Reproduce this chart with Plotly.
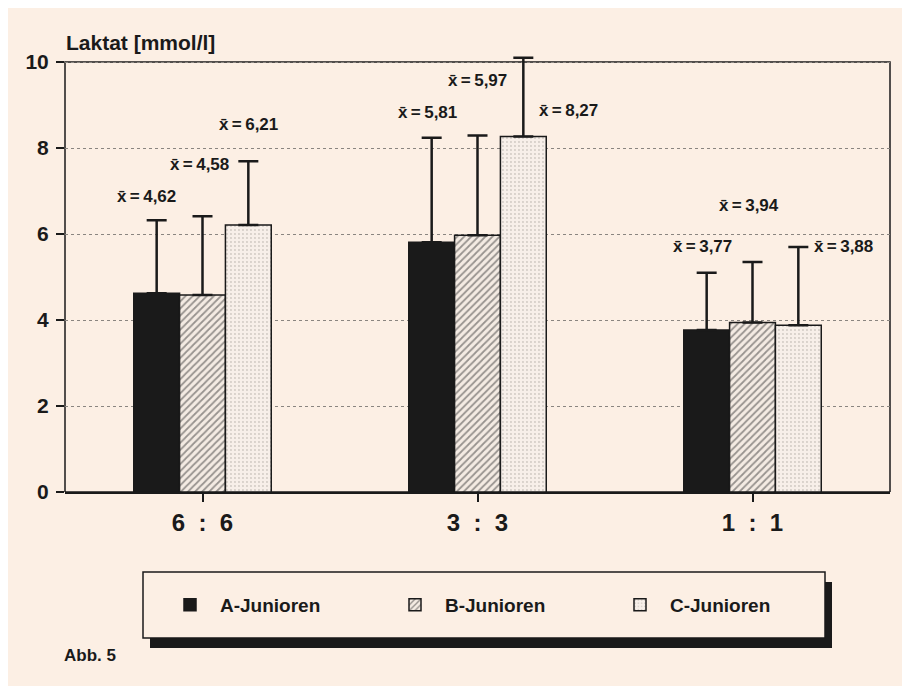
import plotly.graph_objects as go

categories = ["6  :  6", "3  :  3", "1  :  1"]
series_names = ["A-Junioren", "B-Junioren", "C-Junioren"]
a_mean = [4.62, 5.81, 3.77]
b_mean = [4.58, 5.97, 3.94]
c_mean = [6.21, 8.27, 3.88]
a_sd = [1.70, 2.43, 1.33]
b_sd = [1.83, 2.32, 1.41]
c_sd = [1.48, 1.83, 1.82]
y_ticks = [0, 2, 4, 6, 8, 10]

means = [a_mean, b_mean, c_mean]
sds = [a_sd, b_sd, c_sd]

# label placement (pixel offsets from error-bar cap) per series, per group
label_dx = [[-10, -4, -4], [-3, 0, -4], [0, 45, 45]]
label_dy = [[24, 25, 26], [52, 55, 56], [37, -53, 0]]

BG = "#fcefe4"
INK = "#1a1a1a"
FONT = "Liberation Sans"

patterns = [
    dict(shape="", fgcolor=INK),
    dict(shape="/", fgcolor="#3a3a3a", bgcolor="#f4ebe3", size=5, solidity=0.35),
    dict(shape=".", fgcolor="#a8a29c", bgcolor="#f7efe9", size=4, solidity=0.18),
]
colors = [INK, "#f4ebe3", "#f7efe9"]

bargap = 0.5
n = len(series_names)
xs = list(range(len(categories)))

# the page body adds an 8px offset; figure is sized to fill the rest
W, H = 902, 678
HEAD = 6  # px of headroom above the frame so the tallest cap shows
L, R, T, B = 57, 20, 54 - HEAD, 194
plot_w, plot_h = W - L - R, H - T - B
y_max = 10 * plot_h / (plot_h - HEAD)


def px_x(v):
    return (v - 8 - L) / plot_w


def px_y(v):
    return (H - B - (v - 8)) / plot_h


fig = go.Figure()
for j in range(n):
    fig.add_trace(go.Bar(
        x=xs, y=means[j], name=series_names[j],
        marker=dict(color=colors[j], pattern=patterns[j],
                    line=dict(color=INK, width=1.5)),
        error_y=dict(type="data", array=sds[j], arrayminus=[0] * len(xs),
                     symmetric=False, color=INK, thickness=2.5, width=10),
        cliponaxis=False,
    ))

annotations = []
w = (1 - bargap) / n
for j in range(n):
    for i in xs:
        xc = i + (j - (n - 1) / 2) * w
        annotations.append(dict(
            x=xc, y=means[j][i] + sds[j][i], xref="x", yref="y",
            text="<b>x\u0304\u2009=\u2009" + f"{means[j][i]:.2f}".replace(".", ",") + "</b>",
            showarrow=False, xshift=label_dx[j][i], yshift=label_dy[j][i],
            font=dict(family=FONT, size=17, color=INK),
        ))

annotations.append(dict(x=px_x(64), y=px_y(42), xref="paper", yref="paper", xanchor="left",
                        yanchor="middle", text="<b>Laktat [mmol/l]</b>", showarrow=False,
                        font=dict(family=FONT, size=21, color=INK)))
annotations.append(dict(x=px_x(62), y=px_y(655), xref="paper", yref="paper", xanchor="left",
                        yanchor="middle", text="<b>Abb. 5</b>", showarrow=False,
                        font=dict(family=FONT, size=17, color=INK)))

# legend frame + shadow (paper coords)
lx0, lx1 = px_x(143), px_x(825)
ly0, ly1 = px_y(638), px_y(572)
sx, sy = 7 / plot_w, 10 / plot_h
shapes = [
    dict(type="rect", xref="paper", yref="y", x0=0, x1=1, y0=0, y1=10,
         fillcolor="rgba(0,0,0,0)", line=dict(color=INK, width=1.5), layer="below"),
    dict(type="rect", xref="paper", yref="paper", x0=lx0 + sx, x1=lx1 + sx,
         y0=ly0 - sy, y1=ly1 - sy, fillcolor=INK, line=dict(width=0), layer="above"),
    dict(type="rect", xref="paper", yref="paper", x0=lx0, x1=lx1, y0=ly0, y1=ly1,
         fillcolor=BG, line=dict(color=INK, width=1.5), layer="above"),
]

fig.update_layout(
    width=W, height=H,
    margin=dict(l=L, r=R, t=T, b=B),
    paper_bgcolor=BG, plot_bgcolor=BG,
    barmode="group", bargap=bargap, bargroupgap=0,
    font=dict(family=FONT, color=INK),
    showlegend=True,
    legend=dict(orientation="h", x=px_x(160), xanchor="left", y=px_y(605),
                yanchor="middle", bgcolor="rgba(0,0,0,0)", borderwidth=0,
                font=dict(family=FONT, size=19, color=INK, weight="bold"),
                itemwidth=50,
                entrywidth=160, entrywidthmode="pixels", traceorder="normal"),
    annotations=annotations,
    shapes=shapes,
    xaxis=dict(tickvals=xs, ticktext=[f"<b>{c}</b>" for c in categories],
               range=[-0.5, len(xs) - 0.5], ticks="outside", ticklen=8, tickwidth=1.5,
               tickcolor=INK, showline=True, linecolor=INK, linewidth=1.5, mirror=False,
               showgrid=False, zeroline=False,
               tickfont=dict(family=FONT, size=24, color=INK)),
    yaxis=dict(range=[0, y_max], tickvals=y_ticks, ticktext=[f"<b>{t}</b>" for t in y_ticks],
               ticks="outside", ticklen=8, tickwidth=1.5, tickcolor=INK,
               showline=False, zeroline=False, ticklabelstandoff=3,
               showgrid=True, gridcolor="#8a8580", griddash="dot", gridwidth=1,
               tickfont=dict(family=FONT, size=21, color=INK)),
)

fig.write_html("out.html")
